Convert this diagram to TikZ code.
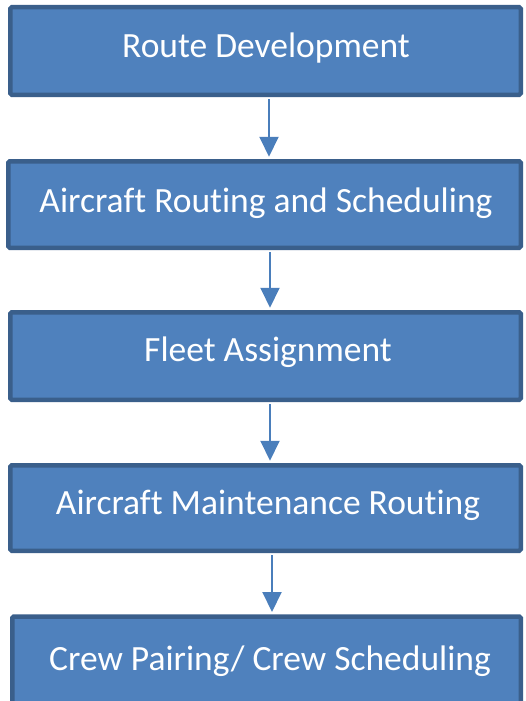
\documentclass[tikz,border=0pt]{standalone}
\usepackage{fontspec}
\setmainfont[Ligatures={NoCommon}]{Carlito}
\usetikzlibrary{arrows.meta}
\definecolor{boxfill}{HTML}{4F81BD}
\definecolor{boxline}{HTML}{3A5F8B}
\definecolor{arrcol}{HTML}{4A7EBB}
\begin{document}
\begin{tikzpicture}[x=1pt,y=-1pt,
  box/.style={draw=boxline, fill=boxfill, line width=4.5pt, rounded corners=1.5pt, inner sep=0pt},
  lbl/.style={anchor=base, text=white, inner sep=0pt, font=\fontsize{35.5}{40}\selectfont},
  arr/.style={draw=arrcol, line width=2pt, -{Triangle[width=19pt,length=20pt]}, shorten >=2.25pt, shorten <=2.25pt}]
\useasboundingbox[fill=white] (0,0) rectangle (525,701);
\node[box, minimum width=510.5pt, minimum height=87.5pt] (b1) at (265.5,51) {};
\node[box, minimum width=512.5pt, minimum height=86.5pt] (b2) at (264.5,204.5) {};
\node[box, minimum width=510.5pt, minimum height=87.5pt] (b3) at (265.5,356) {};
\node[box, minimum width=510.5pt, minimum height=85.5pt] (b4) at (265.5,508) {};
\node[box, minimum width=508.5pt, minimum height=87pt] (b5) at (266.5,660) {};
\node[lbl] (t1) at (266,58) {Route Development};
\node[lbl] (t2) at (266,212) {Aircraft Routing and Scheduling};
\node[lbl] (t3) at (268,361) {Fleet Assignment};
\node[lbl] (t4) at (268,514) {Aircraft Maintenance Routing};
\node[lbl] (t5) at (270,670) {Crew Pairing/ Crew Scheduling};
\coordinate (x1) at (269,0);
\coordinate (x2) at (270,0);
\coordinate (x3) at (270,0);
\coordinate (x4) at (272,0);
\draw[arr] (b1.south -| x1) -- (b2.north -| x1);
\draw[arr] (b2.south -| x2) -- (b3.north -| x2);
\draw[arr] (b3.south -| x3) -- (b4.north -| x3);
\draw[arr] (b4.south -| x4) -- (b5.north -| x4);
\end{tikzpicture}
\end{document}
